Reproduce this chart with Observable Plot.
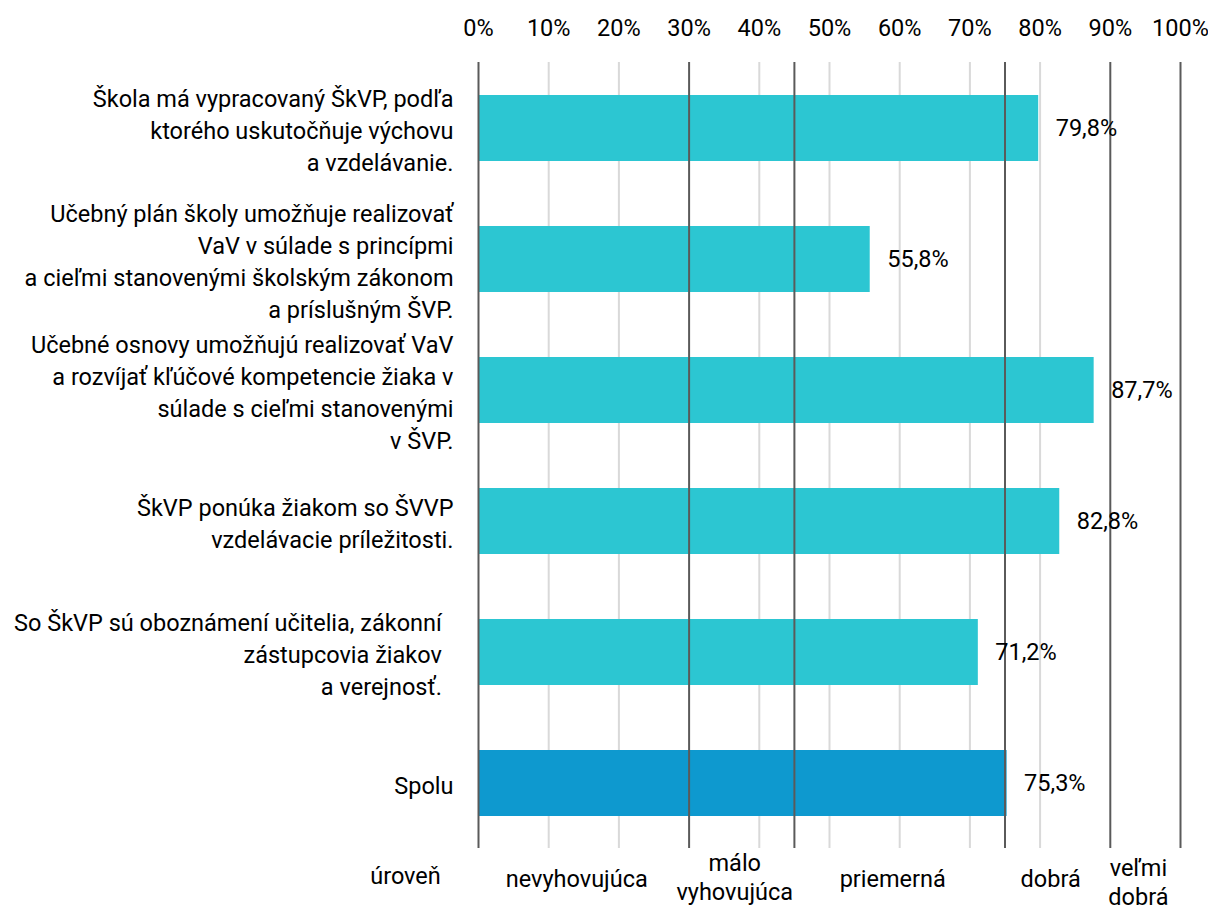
<!DOCTYPE html>
<html>
<head>
<meta charset="utf-8">
<script src="https://cdn.jsdelivr.net/npm/d3@7"></script>
<script src="https://cdn.jsdelivr.net/npm/@observablehq/plot@0.6"></script>
<style>
  html, body { margin: 0; padding: 0; background: #fff; }
  #chart svg { display: block; }
</style>
</head>
<body>
<div id="chart"></div>
<script>
const categories = [
  "Škola má vypracovaný ŠkVP, podľa\nktorého uskutočňuje výchovu\na vzdelávanie.",
  "Učebný plán školy umožňuje realizovať\nVaV v súlade s princípmi\na cieľmi stanovenými školským zákonom\na príslušným ŠVP.",
  "Učebné osnovy umožňujú realizovať VaV\na rozvíjať kľúčové kompetencie žiaka v\nsúlade s cieľmi stanovenými\nv ŠVP.",
  "ŠkVP ponúka žiakom so ŠVVP\nvzdelávacie príležitosti.",
  "So ŠkVP sú oboznámení učitelia, zákonní\u00a0\u00a0\nzástupcovia žiakov\u00a0\u00a0\na verejnosť.\u00a0\u00a0",
  "Spolu"
];
const values = [79.8, 55.8, 87.7, 82.8, 71.2, 75.3];
const isTotal = [false, false, false, false, false, true];

const xTicks = [0, 10, 20, 30, 40, 50, 60, 70, 80, 90, 100];
const thresholds = [0, 30, 45, 75, 90, 100];
const lightGrid = [10, 20, 40, 50, 60, 70, 80];

const levelNames = ["nevyhovujúca", "málo\nvyhovujúca", "priemerná", "dobrá", "veľmi\ndobrá"];
const levelTitle = "úroveň";

const rows = categories.map((c, i) => ({category: c, value: values[i], total: isTotal[i]}));
const levels = levelNames.map((name, i) => ({name, from: thresholds[i], to: thresholds[i + 1]}));

const fmt = v => v.toFixed(1).replace(".", ",") + "%";
const FS = 23.5;

const levelText = (filter, dy) => Plot.text(levels, {
  filter,
  x: d => (d.from + d.to) / 2,
  text: "name",
  frameAnchor: "bottom",
  lineAnchor: "middle",
  dx: -7,
  dy,
  lineHeight: 1.22,
  fontSize: FS,
  fill: "#000"
});

const chart = Plot.plot({
  width: 1208,
  height: 913,
  marginLeft: 478,
  marginRight: 28,
  marginTop: 62,
  marginBottom: 65,
  style: {fontFamily: "Roboto, sans-serif", fontSize: FS + "px", color: "#000", background: "#fff"},
  x: {domain: [0, 100]},
  y: {domain: categories, paddingInner: 0.5, paddingOuter: 0.25},
  marks: [
    Plot.ruleX(lightGrid, {stroke: "#d9d9d9", strokeWidth: 2}),
    Plot.barX(rows, {
      y: "category",
      x: "value",
      fill: d => d.total ? "#0e99cf" : "#2cc6d2"
    }),
    Plot.ruleX(thresholds, {stroke: "#5a5a5a", strokeWidth: 2}),
    Plot.text(rows, {
      y: "category",
      x: "value",
      text: d => fmt(d.value),
      textAnchor: "start",
      dx: 17,
      fontSize: FS,
      fill: "#000"
    }),
    Plot.text(rows, {
      y: "category",
      x: 0,
      text: "category",
      textAnchor: "end",
      dx: -25,
      lineHeight: 1.36,
      fontSize: FS,
      fill: "#000"
    }),
    levelText(d => !d.name.includes("\n"), 29),
    levelText(d => d.name.includes("\n") && d.to < 100, 28),
    levelText(d => d.name.includes("\n") && d.to === 100, 33),
    Plot.text([levelTitle], {
      x: 0,
      text: d => d,
      frameAnchor: "bottom",
      lineAnchor: "middle",
      dx: -73,
      dy: 28,
      fontSize: FS,
      fill: "#000"
    }),
    Plot.axisX({anchor: "top", ticks: xTicks, tickFormat: d => d + "%", tickSize: 0, tickPadding: 27, label: null, fontSize: FS, fill: "#000"}),
    Plot.axisY({ticks: [], label: null})
  ]
});
document.getElementById("chart").appendChild(chart);
</script>
</body>
</html>
